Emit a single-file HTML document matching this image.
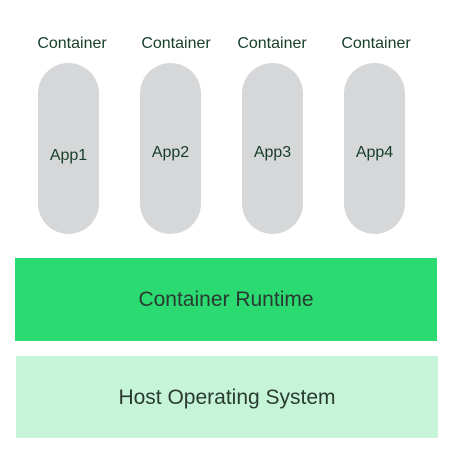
<!DOCTYPE html>
<html><head><style>
body{margin:0;width:451px;height:462px;background:#fff;position:relative;font-family:"Liberation Sans",sans-serif;overflow:hidden}
.l{position:absolute;top:35px;width:100px;text-align:center;font-size:16px;color:#163d28}
.p{position:absolute;top:63px;width:61px;height:171px;border-radius:31px;background:#d6d7d9;text-align:center;line-height:186px;font-size:16px;color:#163d28}
.b{position:absolute;left:15px;width:422px;text-align:center;font-size:21px;color:#2a3a30}
</style></head><body>
<div class="l" style="left:22px">Container</div>
<div class="l" style="left:126px">Container</div>
<div class="l" style="left:222px">Container</div>
<div class="l" style="left:326px">Container</div>
<div class="p" style="left:38px">App1</div>
<div class="p" style="left:140px;line-height:180px">App2</div>
<div class="p" style="left:242px;line-height:180px">App3</div>
<div class="p" style="left:344px;line-height:180px">App4</div>
<div class="b" style="top:258px;height:83px;line-height:83px;background:#2bdb72">Container Runtime</div>
<div class="b" style="top:356px;left:16px;height:82px;line-height:84px;background:#c5f4d9">Host Operating System</div>
</body></html>
